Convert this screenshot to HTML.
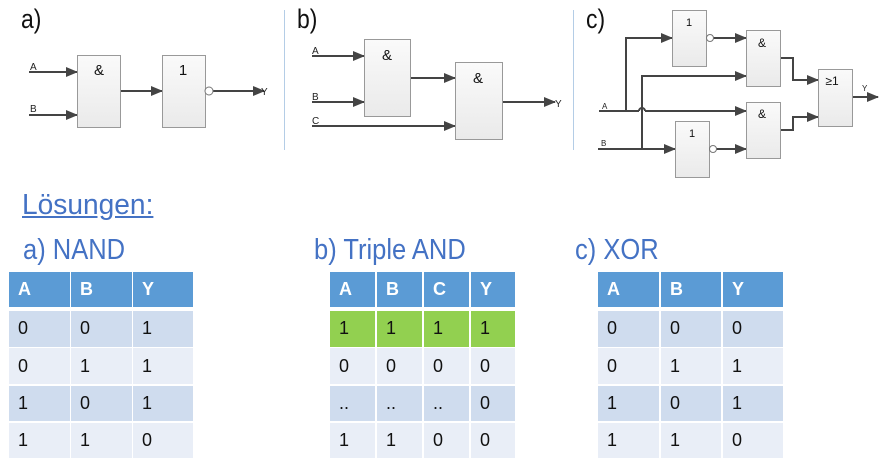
<!DOCTYPE html>
<html><head><meta charset="utf-8"><style>
body{margin:0;width:889px;height:467px;background:#fff;position:relative;overflow:hidden;font-family:"Liberation Sans",sans-serif}
.t{position:absolute;color:#4472c4;font-size:29px;white-space:nowrap;transform-origin:0 0;transform:scaleX(0.88)}
.lab{position:absolute;font-size:27px;color:#111;transform-origin:0 0;transform:scaleX(0.85)}
.c{position:absolute;font-size:18px;color:#111;box-sizing:border-box;padding-left:9px;display:flex;align-items:center}
.h{background:#5b9bd5;color:#fff;font-weight:bold}
.r0{background:#cfdcee}.r1{background:#e9eef7}.g{background:#92d050}
svg text{font-family:"Liberation Sans",sans-serif}
</style></head><body>
<div class="lab" style="left:21px;top:4px">a)</div>
<div class="lab" style="left:297px;top:4px">b)</div>
<div class="lab" style="left:586px;top:4px">c)</div>
<svg width="889" height="190" style="position:absolute;left:0;top:0">
<defs><marker id="ar" markerWidth="12" markerHeight="10" refX="11" refY="5" orient="auto" markerUnits="userSpaceOnUse"><path d="M0,0 L12,5 L0,10 z" fill="#444"/></marker>
<linearGradient id="gb" x1="0" y1="0" x2="0" y2="1"><stop offset="0" stop-color="#fafafa"/><stop offset="1" stop-color="#eaeaea"/></linearGradient></defs>
<g stroke="#b4cde6" stroke-width="1"><line x1="284.5" y1="10" x2="284.5" y2="150"/><line x1="573.5" y1="10" x2="573.5" y2="150"/></g>
<g stroke="#444" stroke-width="2" fill="none">
<line x1="29" y1="72" x2="77" y2="72" marker-end="url(#ar)"/>
<line x1="29" y1="115" x2="77" y2="115" marker-end="url(#ar)"/>
<line x1="120" y1="91" x2="162" y2="91" marker-end="url(#ar)"/>
<line x1="213" y1="91" x2="264" y2="91" marker-end="url(#ar)"/>
<line x1="312" y1="56" x2="364" y2="56" marker-end="url(#ar)"/>
<line x1="312" y1="102" x2="364" y2="102" marker-end="url(#ar)"/>
<line x1="312" y1="126" x2="455" y2="126" marker-end="url(#ar)"/>
<line x1="410" y1="78" x2="455" y2="78" marker-end="url(#ar)"/>
<line x1="502" y1="102" x2="555" y2="102" marker-end="url(#ar)"/>
<polyline points="626,111 626,38 672,38" marker-end="url(#ar)"/>
<line x1="645" y1="111" x2="746" y2="111" marker-end="url(#ar)"/>
<path d="M639,111 A3,3 0 0 1 645,111"/>
<line x1="599" y1="111" x2="639" y2="111"/>
<line x1="598" y1="149" x2="675" y2="149" marker-end="url(#ar)"/>
<polyline points="642,149 642,76 746,76" marker-end="url(#ar)"/>
<line x1="713" y1="38" x2="746" y2="38" marker-end="url(#ar)"/>
<line x1="713" y1="149" x2="746" y2="149" marker-end="url(#ar)"/>
<polyline points="780,58 793,58 793,80 818,80" marker-end="url(#ar)"/>
<polyline points="780,130 793,130 793,117 818,117" marker-end="url(#ar)"/>
<line x1="852" y1="97" x2="878" y2="97" marker-end="url(#ar)"/>
</g>
<g fill="url(#gb)" stroke="#999" stroke-width="1">
<rect x="77.5" y="55.5" width="43" height="72"/>
<rect x="162.5" y="55.5" width="43" height="72"/>
<rect x="364.5" y="39.5" width="46" height="77"/>
<rect x="455.5" y="62.5" width="47" height="77"/>
<rect x="672.5" y="10.5" width="34" height="56"/>
<rect x="746.5" y="30.5" width="34" height="56"/>
<rect x="675.5" y="121.5" width="34" height="56"/>
<rect x="746.5" y="102.5" width="34" height="56"/>
<rect x="818.5" y="69.5" width="34" height="57"/>
</g>
<g fill="#fff" stroke="#777" stroke-width="1">
<circle cx="209" cy="91" r="4"/><circle cx="710" cy="38" r="3.5"/><circle cx="713" cy="149" r="3.5"/>
</g>
<g fill="#111" font-size="15" text-anchor="middle">
<text x="99" y="75">&amp;</text><text x="183" y="75">1</text>
<text x="387" y="60">&amp;</text><text x="478" y="83">&amp;</text>
<text x="689" y="26" font-size="11">1</text><text x="692" y="137" font-size="11">1</text>
<text x="762" y="47" font-size="12">&amp;</text><text x="762" y="118" font-size="12">&amp;</text>
<text x="832" y="85" font-size="12">≥1</text>
</g>
<g fill="#222" font-size="10">
<text x="30" y="70">A</text><text x="30" y="112">B</text><text x="261" y="95">Y</text>
<text x="312" y="54">A</text><text x="312" y="100">B</text><text x="312" y="124">C</text><text x="555" y="107">Y</text>
<text x="602" y="109" font-size="8">A</text><text x="601" y="146" font-size="8">B</text><text x="862" y="91" font-size="8">Y</text>
</g>
</svg>
<div class="t" style="left:22px;top:189px;text-decoration:underline;transform:scaleX(0.97)">Lösungen:</div>
<div class="t" style="left:23px;top:234px">a) NAND</div>
<div class="t" style="left:314px;top:234px">b) Triple AND</div>
<div class="t" style="left:575px;top:234px">c) XOR</div>
<div id="tables"></div>
<script>
const tables=[
 {name:'nand',cols:[[9,61],[71,61],[133,60]],head:['A','B','Y'],rows:[['0','0','1'],['0','1','1'],['1','0','1'],['1','1','0']],green:-1},
 {name:'triple-and',cols:[[330,45],[377,45],[424,45],[471,44]],head:['A','B','C','Y'],rows:[['1','1','1','1'],['0','0','0','0'],['..','..','..','0'],['1','1','0','0']],green:0},
 {name:'xor',cols:[[598,61],[661,60],[723,60]],head:['A','B','Y'],rows:[['0','0','0'],['0','1','1'],['1','0','1'],['1','1','0']],green:-1}
];
const root=document.getElementById('tables');
tables.forEach(t=>{
 t.head.forEach((h,i)=>{
  const d=document.createElement('div');d.className='c h';
  d.style.cssText=`left:${t.cols[i][0]}px;top:272px;width:${t.cols[i][1]}px;height:35px`;
  d.textContent=h;
  
  
  root.appendChild(d);
 });
 t.rows.forEach((r,ri)=>{
  r.forEach((v,i)=>{
   const d=document.createElement('div');
   d.className='c '+(ri===t.green?'g':(ri%2===0?'r0':'r1'));
   d.style.cssText=`left:${t.cols[i][0]}px;top:${311+ri*37.3}px;width:${t.cols[i][1]}px;height:35.5px`;
   d.textContent=v;
   
   
   root.appendChild(d);
  });
 });
});
</script>
</body></html>
